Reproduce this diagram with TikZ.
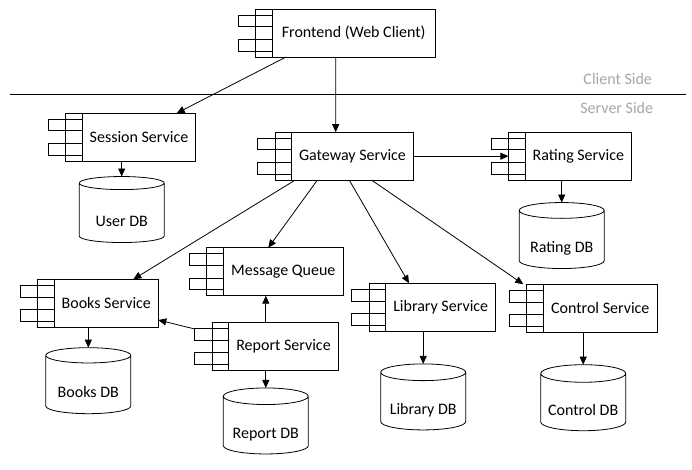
\documentclass[tikz,border=0pt]{standalone}
\usepackage{fontspec}
\setmainfont{Carlito}
\usetikzlibrary{positioning}
\usetikzlibrary{shapes.geometric}
\usetikzlibrary{arrows.meta}
\newcommand{\sidecolor}{sidegray}
\definecolor{sidegray}{HTML}{A6A6A6}
\tikzstyle{every node}=[font=\fontsize{16}{19}\selectfont, inner sep=0, outer sep=0]
\tikzstyle{comp}=[draw, fill=white, rectangle, minimum height=48]
\tikzstyle{db}=[draw, fill=white, cylinder, shape border rotate=90, aspect=0.25, minimum width=85, minimum height=66, text height=26, text depth=0]
\tikzstyle{flow}=[-{Triangle[length=8pt,width=7pt]}]

\begin{document}
\begin{tikzpicture}[x=1pt, y=-1pt, line width=0.8pt]
    \useasboundingbox (0, 0) rectangle (692, 470);
    % client / server border
    \draw (10, 94) -- (686, 94);
    \node[\sidecolor] (client) at (617.7, 79.3) {Client Side};
    \node[\sidecolor] (server) at (616.7, 107.7) {Server Side};
    % components
    \node[comp, minimum width=162.7] (front) at (353.7, 33) {Frontend (Web Client)};
    \node[comp, minimum width=113.4] (session) at (139, 137.2) {Session Service};
    \node[comp, minimum width=121.6] (gateway) at (352.5, 156.2) {Gateway Service};
    \node[comp, minimum width=106.7] (rating) at (578.4, 156.2) {Rating Service};
    \node[comp, minimum width=104] (books) at (106.3, 303.3) {Books Service};
    \node[comp, minimum width=120] (mq) at (283.3, 271.7) {Message Queue};
    \node[comp, minimum width=109.6] (report) at (283.5, 346.4) {Report Service};
    \node[comp, minimum width=110] (library) at (440.7, 307.2) {Library Service};
    \node[comp, minimum width=114] (control) at (600.3, 308.2) {Control Service};
    \foreach \c in {front, session, gateway, rating, books, mq, report, library, control} {
        \draw[fill=white] ([xshift=-16.6]\c.north west) rectangle (\c.south west);
        \draw ([xshift=-34, yshift=-6]\c.north west) rectangle ([yshift=-17.7]\c.north west);
        \draw ([xshift=-34, yshift=6]\c.south west) rectangle ([yshift=17.7]\c.south west);
    }
    % databases
    \node[db] (userdb) at (121.7, 213) {User DB};
    \node[db] (ratingdb) at (561.7, 239.7) {Rating DB};
    \node[db] (booksdb) at (88.3, 384.7) {Books DB};
    \node[db] (reportdb) at (265.8, 425.3) {Report DB};
    \node[db] (librarydb) at (423.2, 401.3) {Library DB};
    \node[db] (controldb) at (583.2, 402.3) {Control DB};
    % calls
    \draw[flow] ([xshift=13.7]front.south west) -- ([xshift=94.4]session.north west);
    \draw[flow] ([xshift=63.4]front.south west) -- ([xshift=44]gateway.north west);
    \draw[flow] (gateway.east) -- ([xshift=-16.6]rating.west);
    \draw[flow] ([xshift=3.3]gateway.south west) -- ([xshift=79]books.north west);
    \draw[flow] ([xshift=25.6]gateway.south west) -- ([xshift=45]mq.north west);
    \draw[flow] ([xshift=57.6]gateway.south west) -- ([xshift=23.3]library.north west);
    \draw[flow] ([xshift=80]gateway.south west) -- ([xshift=-20]control.north west);
    \draw[flow] (reportdb.north |- report.north) -- (reportdb.north |- mq.south);
    \draw[flow] ([xshift=-34, yshift=-6.6]report.north west) -- ([yshift=-16.7]books.east);
    % storage
    \draw[flow] (userdb.north |- session.south) -- (userdb.north);
    \draw[flow] (ratingdb.north |- rating.south) -- (ratingdb.north);
    \draw[flow] (booksdb.north |- books.south) -- (booksdb.north);
    \draw[flow] (reportdb.north |- report.south) -- (reportdb.north);
    \draw[flow] (librarydb.north |- library.south) -- (librarydb.north);
    \draw[flow] (controldb.north |- control.south) -- (controldb.north);
\end{tikzpicture}
\end{document}
